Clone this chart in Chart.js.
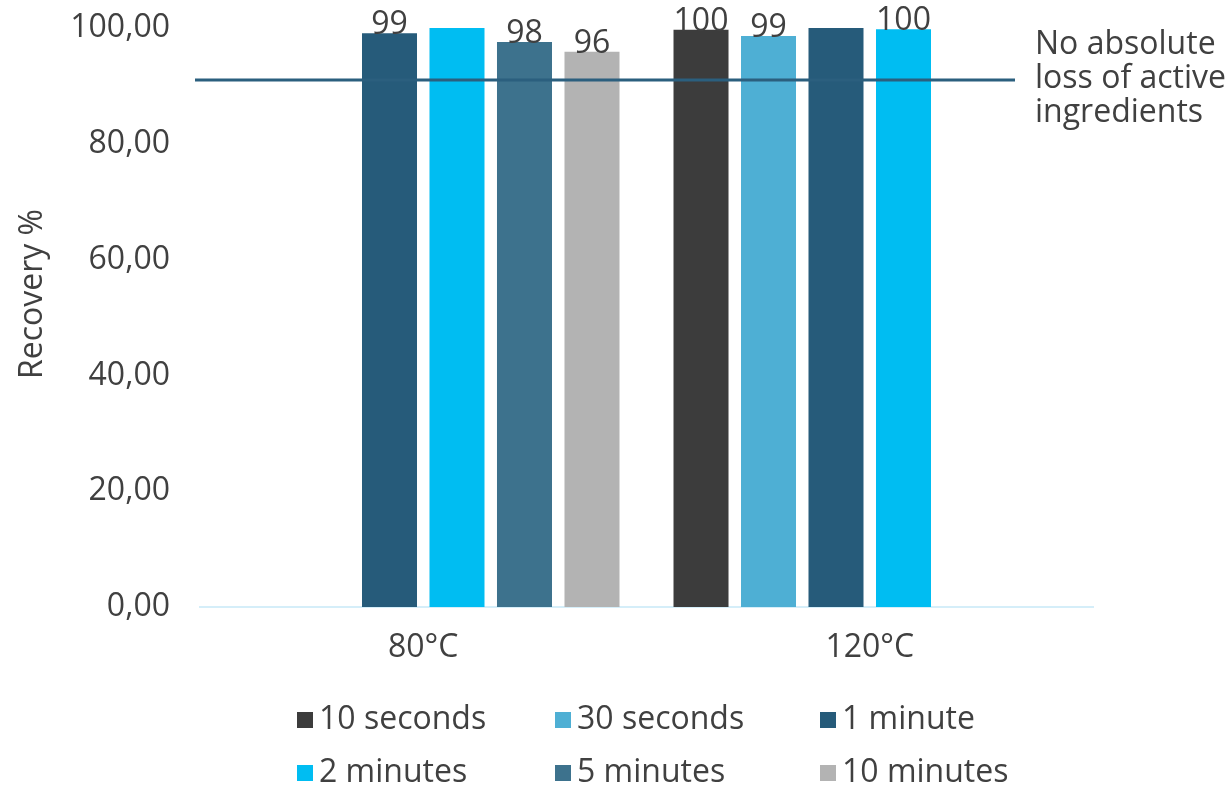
<!DOCTYPE html>
<html>
<head>
<meta charset="utf-8">
<script src="https://cdn.jsdelivr.net/npm/chart.js@4"></script>
<style>
  html, body { margin: 0; padding: 0; background: #fff; }
  #wrap { width: 1229px; height: 792px; position: relative; }
</style>
</head>
<body>
<div id="wrap"><canvas id="chart"></canvas></div>
<script>
const categories = ['80°C', '120°C'];
const seriesNames = ['10 seconds', '30 seconds', '1 minute', '2 minutes', '5 minutes', '10 minutes'];
const tenSeconds = [null, 99.7];
const thirtySeconds = [null, 98.6];
const oneMinute = [99.1, 100];
const twoMinutes = [100, 99.8];
const fiveMinutes = [97.6, null];
const tenMinutes = [95.9, null];
// the original only prints a value on some of the bars
const labelShown = [
    [false, true],
    [false, true],
    [true, false],
    [false, true],
    [true, false],
    [true, false]
];
const yMin = 0, yMax = 100, yStep = 20;
const threshold = 91;
const thresholdText = ['No absolute', 'loss of active', 'ingredients'];

const colors = ['#3c3c3c', '#4eafd4', '#265b7a', '#00bdf2', '#3d728d', '#b3b3b3'];
const FONT = '"Open Sans", sans-serif';
const TEXT = '#404040';
const allValues = [tenSeconds, thirtySeconds, oneMinute, twoMinutes, fiveMinutes, tenMinutes];

const extras = {
    id: 'extras',
    afterDatasetsDraw(chart) {
        const ctx = chart.ctx;
        const y = chart.scales.y;
        const area = chart.chartArea;
        ctx.save();

        // value labels
        ctx.font = '32px ' + FONT;
        ctx.fillStyle = TEXT;
        ctx.textAlign = 'center';
        ctx.textBaseline = 'alphabetic';
        chart.data.datasets.forEach((ds, i) => {
            chart.getDatasetMeta(i).data.forEach((bar, j) => {
                if (ds.data[j] == null || !labelShown[i][j]) return;
                ctx.fillText(Math.round(ds.data[j]), bar.x, bar.y + 1);
            });
        });

        // threshold line
        const ty = y.getPixelForValue(threshold);
        ctx.strokeStyle = '#2b5f7e';
        ctx.lineWidth = 3;
        ctx.beginPath();
        ctx.moveTo(area.left - 5, ty);
        ctx.lineTo(area.right - 78, ty);
        ctx.stroke();

        // annotation
        ctx.textAlign = 'left';
        ctx.textBaseline = 'middle';
        thresholdText.forEach((t, k) => ctx.fillText(t, area.right - 58, 45 + k * 34));

        // y title
        ctx.save();
        ctx.translate(33, 294);
        ctx.rotate(-Math.PI / 2);
        ctx.textAlign = 'center';
        ctx.fillText('Recovery %', 0, 0);
        ctx.restore();

        // legend, 3 columns x 2 rows
        const cols = [297, 555, 820], rows = [720, 773];
        chart.data.datasets.forEach((ds, i) => {
            const cx = cols[i % 3], cy = rows[Math.floor(i / 3)];
            ctx.fillStyle = ds.backgroundColor;
            ctx.fillRect(cx, cy - 8, 16, 16);
            ctx.fillStyle = TEXT;
            ctx.fillText(ds.label, cx + 22, cy);
        });
        ctx.restore();
    }
};

new Chart(document.getElementById('chart'), {
    type: 'bar',
    data: {
        labels: categories,
        datasets: seriesNames.map((name, i) => ({
            label: name,
            data: allValues[i],
            backgroundColor: colors[i],
            barPercentage: 0.815,
            categoryPercentage: 0.907
        }))
    },
    options: {
        responsive: true,
        maintainAspectRatio: false,
        animation: false,
        layout: { padding: { top: 28, right: 136, bottom: 0, left: 0 } },
        plugins: {
            legend: { display: false },
            tooltip: { enabled: false }
        },
        scales: {
            x: {
                grid: { display: false, drawTicks: false },
                border: { color: '#d5eef9', width: 2 },
                ticks: { color: TEXT, font: { family: FONT, size: 32 }, padding: 22 },
                afterFit: s => { s.height = 185; }
            },
            y: {
                min: yMin,
                max: yMax,
                grid: { display: false, drawTicks: false },
                border: { display: false },
                ticks: {
                    stepSize: yStep,
                    color: TEXT,
                    padding: 30,
                    font: { family: FONT, size: 32 },
                    callback: v => v.toFixed(2).replace('.', ',')
                },
                afterFit: s => {
                    s.width = 200;
                    s.paddingTop = 0;
                    s.paddingBottom = 0;
                }
            }
        }
    },
    plugins: [extras]
});
</script>
</body>
</html>
